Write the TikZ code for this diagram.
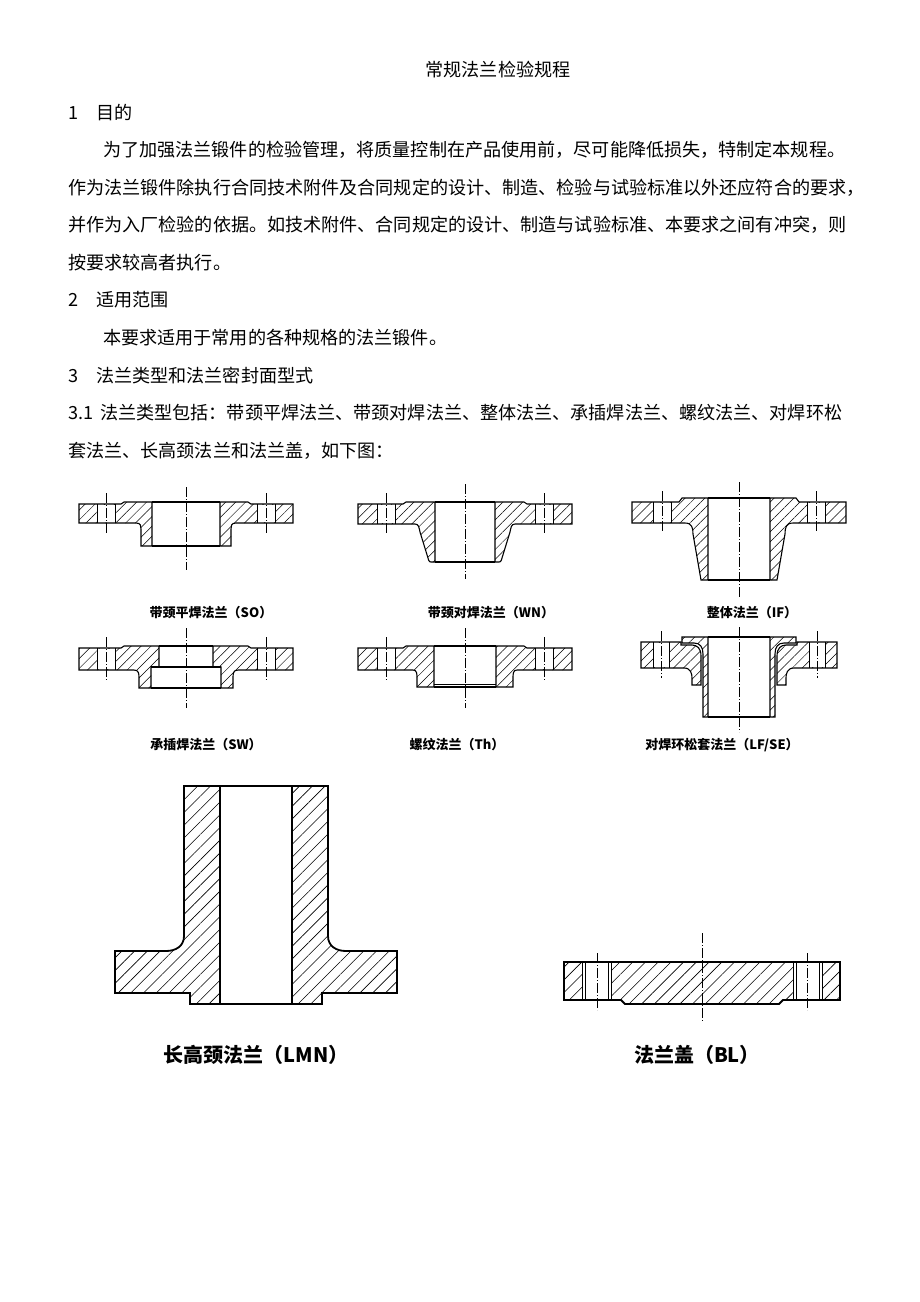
\documentclass[tikz,border=0pt]{standalone}
\usepackage{fontspec}
\setmainfont{Noto Sans CJK SC}
\usetikzlibrary{patterns.meta}
\tikzset{
 sec/.style={draw,line width=1.1pt,pattern={Lines[angle=45,distance=7pt,line width=0.5pt]}},
 secb/.style={draw,line width=1.8pt,pattern={Lines[angle=45,distance=9pt,line width=0.6pt]}},
 cl/.style={line width=0.5pt,dash pattern=on 10pt off 2pt on 1pt off 2pt},
 ln/.style={line width=1.1pt},
 thinl/.style={line width=0.6pt},
 body/.style={anchor=west,inner sep=0pt,font=\fontsize{18.1}{20}\selectfont},
 capt/.style={inner sep=0pt,font=\fontsize{13}{15}\selectfont\bfseries},
 captb/.style={inner sep=0pt,font=\fontsize{20}{22}\selectfont\bfseries}
}
\newcommand{\bhole}[3]{% x1 x2 height
 \fill[white] (#1,0.6) rectangle (#2,#3-0.6);
 \draw[thinl] (#1,0)--(#1,#3) (#2,0)--(#2,#3);
 \draw[cl] ({(#1+#2)/2},-11)--({(#1+#2)/2},#3+10);}
\begin{document}
\begin{tikzpicture}[x=1pt,y=-1pt]
\useasboundingbox[fill=white] (0,0) rectangle (920,1302);
% text
\node[body,anchor=center] (title) at (498,70) {常规法兰检验规程};
\node[body] (n1) at (68,113) {1};
\node[body] (h1) at (96,113) {目的};
\node[body] (p1) at (103,150) {为了加强法兰锻件的检验管理，将质量控制在产品使用前，尽可能降低损失，特制定本规程。};
\node[body] (p2) at (68,188) {作为法兰锻件除执行合同技术附件及合同规定的设计、制造、检验与试验标准以外还应符合的要求，};
\node[body] (p3) at (68,225) {并作为入厂检验的依据。如技术附件、合同规定的设计、制造与试验标准、本要求之间有冲突，则};
\node[body] (p4) at (68,263) {按要求较高者执行。};
\node[body] (n2) at (68,300) {2};
\node[body] (h2) at (96,300) {适用范围};
\node[body] (p5) at (103,338) {本要求适用于常用的各种规格的法兰锻件。};
\node[body] (n3) at (68,376) {3};
\node[body] (h3) at (96,376) {法兰类型和法兰密封面型式};
\node[body] (n31) at (68,413) {3.1};
\node[body] (p6) at (100,413) {法兰类型包括：带颈平焊法兰、带颈对焊法兰、整体法兰、承插焊法兰、螺纹法兰、对焊环松};
\node[body] (p7) at (68,451) {套法兰、长高颈法兰和法兰盖，如下图：};
% SO
\begin{scope}[shift={(186,504)}]
\foreach \s in {1,-1}{\begin{scope}[xscale=\s]
 \path[sec] (34,-2)--(62,-2)--(65,0)--(107,0)--(107,19)--(50,19) .. controls (45,19) and (45,22) .. (45,25)--(45,42)--(34,42)--cycle;
 \bhole{71}{89}{19}
\end{scope}}
\draw[ln] (-34,-2)--(34,-2) (-34,42)--(34,42);
\draw[cl] (0,-17)--(0,66);
\end{scope}
\node[capt] (cso) at (211,613) {带颈平焊法兰（SO）};
% WN
\begin{scope}[shift={(465,504)}]
\foreach \s in {1,-1}{\begin{scope}[xscale=\s]
 \path[sec] (30,-2)--(59,-2)--(62,0)--(107,0)--(107,20)--(50,20) .. controls (46,20) and (46,24) .. (45,28)--(37,54) .. controls (36,58) and (35,58) .. (34,58)--(30,58)--cycle;
 \bhole{70}{88}{20}
\end{scope}}
\draw[ln] (-30,-2)--(30,-2) (-30,58)--(30,58);
\draw[cl] (0,-20)--(0,75);
\end{scope}
\node[capt] (cwn) at (491,613) {带颈对焊法兰（WN）};
% IF
\begin{scope}[shift={(739,502)}]
\foreach \s in {1,-1}{\begin{scope}[xscale=\s]
 \path[sec] (31,-4)--(57,-4)--(60,0)--(107,0)--(107,21)--(54,21) .. controls (47,21) and (46,26) .. (46,32)--(38,78)--(31,78)--cycle;
 \bhole{68}{86}{21}
\end{scope}}
\draw[ln] (-31,-4)--(31,-4) (-31,78)--(31,78);
\draw[cl] (0,-20)--(0,95);
\end{scope}
\node[capt] (cif) at (752,613) {整体法兰（IF）};
% SW
\begin{scope}[shift={(186,648)}]
\foreach \s in {1,-1}{\begin{scope}[xscale=\s]
 \path[sec] (27,-2)--(62,-2)--(65,0)--(107,0)--(107,22)--(52,22) .. controls (47,22) and (47,26) .. (47,30)--(47,40)--(35,40)--(35,19)--(27,19)--cycle;
 \bhole{71}{89}{22}
\end{scope}}
\draw[ln] (-27,-2)--(27,-2) (-35,19)--(35,19) (-35,40)--(35,40);
\draw[cl] (0,-20)--(0,60);
\end{scope}
\node[capt] (csw) at (206,745) {承插焊法兰（SW）};
% Th
\begin{scope}[shift={(465,648)}]
\foreach \s in {1,-1}{\begin{scope}[xscale=\s]
 \path[sec] (31,-2)--(59,-2)--(62,0)--(107,0)--(107,22)--(52,22) .. controls (48,22) and (48,26) .. (48,30)--(48,39)--(31,39)--cycle;
 \bhole{70}{88}{22}
\end{scope}}
\draw[ln] (-31,-2)--(31,-2) (-31,39)--(31,39);
\draw[thinl] (-31,36)--(31,36);
\draw[cl] (0,-20)--(0,60);
\end{scope}
\node[capt] (cth) at (457,745) {螺纹法兰（Th）};
% LF/SE
\begin{scope}[shift={(739,642)}]
\foreach \s in {1,-1}{\begin{scope}[xscale=\s]
 \path[sec] (58,0)--(98,0)--(98,26)--(55,26) .. controls (48,26) and (47,32) .. (47,36)--(47,43)--(38,43)--(38,14) .. controls (38,6) and (42,3) .. (47,3)--(58,3)--cycle;
 \path[sec] (31,-5)--(57,-5)--(57,1)--(45,1) .. controls (39,1) and (36,5) .. (36,12)--(36,75)--(31,75)--cycle;
 \bhole{70}{86}{26}
\end{scope}}
\draw[ln] (-31,-5)--(31,-5) (-31,75)--(31,75);
\draw[cl] (0,-15)--(0,90);
\end{scope}
\node[capt] (clf) at (722,745) {对焊环松套法兰（LF/SE）};
% LMN
\begin{scope}[shift={(256,786)}]
\foreach \s in {1,-1}{\begin{scope}[xscale=\s]
 \path[secb] (36,0)--(72,0)--(72,150) .. controls (72,160) and (80,165) .. (90,165)--(141,165)--(141,207)--(66,207)--(66,218)--(36,218)--cycle;
\end{scope}}
\draw[line width=1.8pt] (-36,0)--(36,0) (-36,218)--(36,218);
\end{scope}
\node[captb] (clmn) at (256,1055) {长高颈法兰（LMN）};
% BL
\begin{scope}[shift={(702,962)}]
\path[secb] (-138,0)--(138,0)--(138,38)--(81,38)--(77,42)--(-77,42)--(-81,38)--(-138,38)--cycle;
\foreach \s in {1,-1}{\begin{scope}[xscale=\s]
 \fill[white] (91,0.9) rectangle (120,37.1);
 \draw[thinl] (91,0)--(91,38) (94,0)--(94,38) (117,0)--(117,38) (120,0)--(120,38);
 \draw[cl] (105,-9)--(105,48);
\end{scope}}
\draw[cl] (0,-29)--(0,60);
\end{scope}
\node[captb] (cbl) at (697,1055) {法兰盖（BL）};
\end{tikzpicture}
\end{document}
